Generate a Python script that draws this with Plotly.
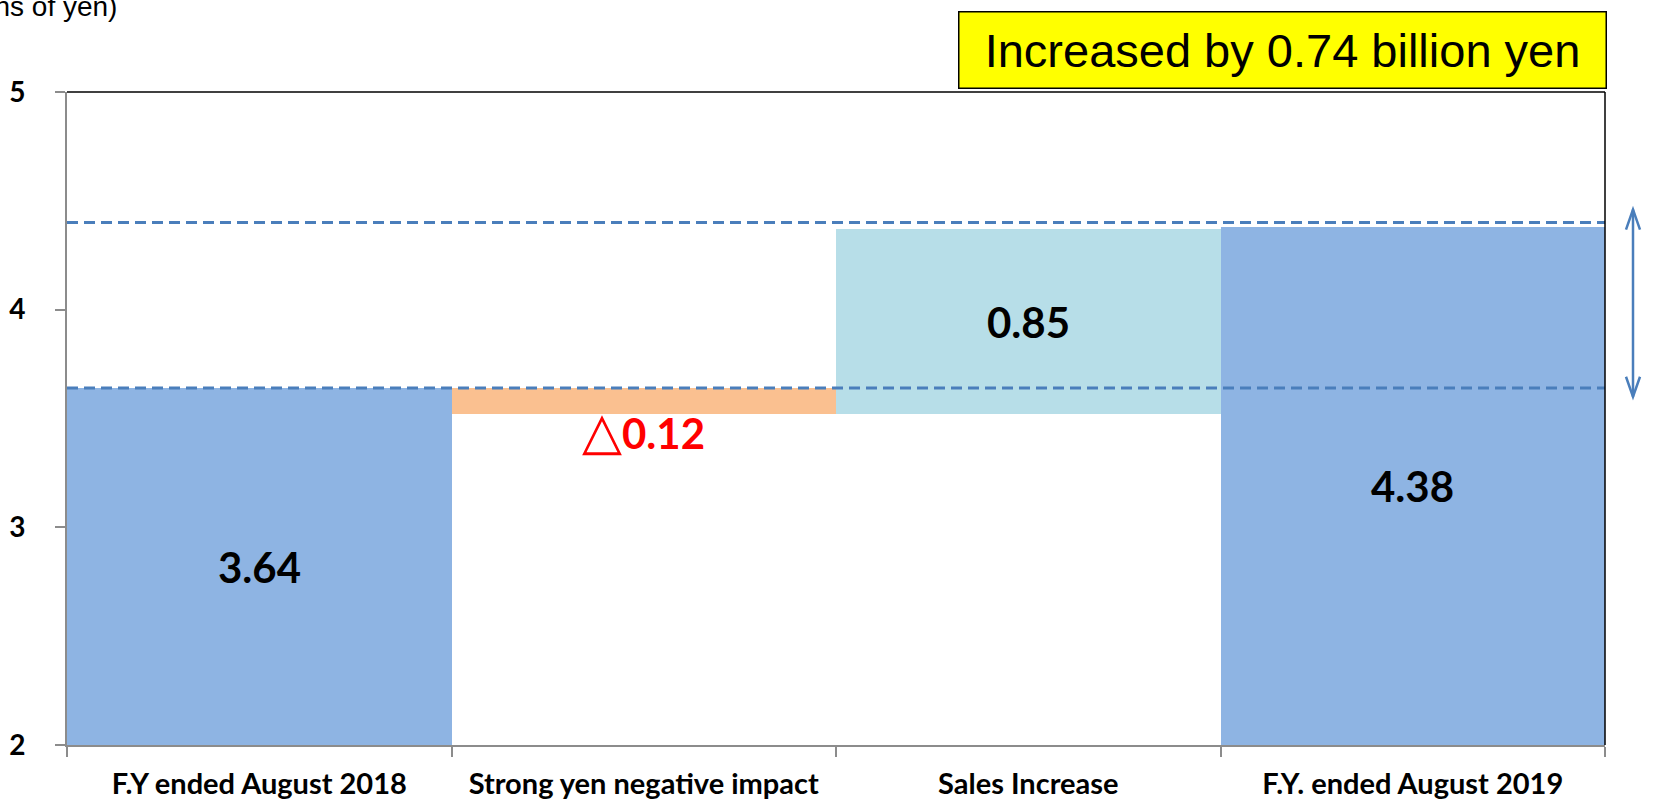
import plotly.graph_objects as go

# Bridge from FY2018 to FY2019 (billions of yen)
categories = ["F.Y ended August 2018", "Strong yen negative impact",
              "Sales Increase", "F.Y. ended August 2019"]
measures = ["absolute", "relative", "relative", "absolute"]
values = [3.64, -0.12, 0.85, 4.38]
value_labels = ["3.64", "△0.12", "0.85", "4.38"]
ref_levels = [3.64, 4.40]
arrow_span = [3.60, 4.46]
y_ticks = [2, 3, 4, 5]
y_range = [2, 5]
headline = "Increased by 0.74 billion yen"
unit_label = "(Billions of yen)"

W, H = 1672, 802
ML, MR, MT, MB = 67, 67, 92, 57
PW, PH = W - ML - MR, H - MT - MB

BLUE = "#8EB4E3"
ORANGE = "#FAC090"
TEAL = "#B7DEE8"
LINE_BLUE = "#4A7EBB"
AXIS_GRAY = "#8C8C8C"
LABEL_FONT = "Lato, 'DejaVu Sans', sans-serif"

fig = go.Figure(go.Waterfall(
    x=categories,
    measure=measures,
    y=values,
    increasing=dict(marker=dict(color=TEAL, line=dict(width=0))),
    decreasing=dict(marker=dict(color=ORANGE, line=dict(width=0))),
    totals=dict(marker=dict(color=BLUE, line=dict(width=0))),
    connector=dict(visible=False),
    hoverinfo="skip",
))


def styled(lab):
    # render the delta triangle with a heavier, larger glyph
    if lab.startswith("△"):
        return ("<span style=\"font-family:'DejaVu Sans';font-weight:bold;font-size:52px\">△</span>"
                + lab[1:])
    return lab


# value labels placed on each bar
running = 0.0
annotations = []
for cat, m, v, lab in zip(categories, measures, values, value_labels):
    if m == "absolute":
        running = v
        ymid = (y_range[0] + v) / 2
        annotations.append(dict(x=cat, y=ymid, text=styled(lab), showarrow=False,
                                font=dict(family=LABEL_FONT, size=42, color="black", weight=700)))
    else:
        lo, hi = sorted([running, running + v])
        running += v
        if v < 0:
            annotations.append(dict(x=cat, y=lo, yanchor="top", yshift=15, text=styled(lab),
                                    showarrow=False,
                                    font=dict(family=LABEL_FONT, size=42, color="#FF0000", weight=700)))
        else:
            annotations.append(dict(x=cat, y=(lo + hi) / 2, text=styled(lab), showarrow=False,
                                    font=dict(family=LABEL_FONT, size=42, color="black", weight=700)))


def py(px):
    return (H - MB - px) / PH


def pxx(px):
    return (px - ML) / PW


# headline box
annotations.append(dict(xref="paper", yref="paper", x=pxx(1607), y=py(11),
                        xanchor="right", yanchor="top", text=headline, showarrow=False,
                        font=dict(family="Liberation Sans, Arial", size=47, color="black"),
                        bgcolor="#FFFF00", bordercolor="#000000", borderwidth=1.5,
                        width=642, height=71, borderpad=2))
# unit caption
annotations.append(dict(xref="paper", yref="paper", x=pxx(119), y=py(7),
                        xanchor="right", yanchor="middle", text=unit_label, showarrow=False,
                        font=dict(family="Liberation Sans, Arial", size=28, color="black")))

shapes = []
for lv in ref_levels:
    shapes.append(dict(type="line", xref="paper", yref="y", x0=0, x1=1, y0=lv, y1=lv,
                       line=dict(color=LINE_BLUE, width=3, dash="11px,6px")))
# frame on top and right
shapes.append(dict(type="line", xref="paper", yref="paper", x0=0, x1=1, y0=1, y1=1,
                   line=dict(color="black", width=1.5)))
shapes.append(dict(type="line", xref="paper", yref="paper", x0=1, x1=1, y0=0, y1=1,
                   line=dict(color="black", width=1.5)))

# double-headed arrow marking the increase
ax = pxx(1633)
hw = 7 / PW
hh = 20 / (PH / (y_range[1] - y_range[0]))
a0, a1 = arrow_span
shapes.append(dict(type="line", xref="paper", yref="y", x0=ax, x1=ax, y0=a0, y1=a1,
                   line=dict(color=LINE_BLUE, width=2.5)))
shapes.append(dict(type="path", xref="paper", yref="y",
                   path=f"M {ax-hw},{a1-hh} L {ax},{a1} L {ax+hw},{a1-hh}",
                   line=dict(color=LINE_BLUE, width=2.5)))
shapes.append(dict(type="path", xref="paper", yref="y",
                   path=f"M {ax-hw},{a0+hh} L {ax},{a0} L {ax+hw},{a0+hh}",
                   line=dict(color=LINE_BLUE, width=2.5)))

fig.update_layout(
    width=W, height=H,
    margin=dict(l=ML, r=MR, t=MT, b=MB, autoexpand=False),
    paper_bgcolor="white", plot_bgcolor="white",
    waterfallgap=0, showlegend=False,
    annotations=annotations, shapes=shapes,
    xaxis=dict(type="category", tickson="boundaries", ticks="outside", ticklen=10,
               tickcolor=AXIS_GRAY, tickwidth=1.5, showline=True, linecolor=AXIS_GRAY,
               linewidth=2, showgrid=False, zeroline=False, ticklabelstandoff=12,
               tickfont=dict(family=LABEL_FONT, size=29, color="black", weight=700)),
    yaxis=dict(range=y_range, tickvals=y_ticks, ticks="outside", ticklen=10,
               tickcolor=AXIS_GRAY, tickwidth=1.5, showline=True, linecolor=AXIS_GRAY,
               linewidth=2, showgrid=False, zeroline=False, ticklabelstandoff=24,
               tickfont=dict(family=LABEL_FONT, size=28, color="black", weight=700)),
)

fig.write_html("out.html")
